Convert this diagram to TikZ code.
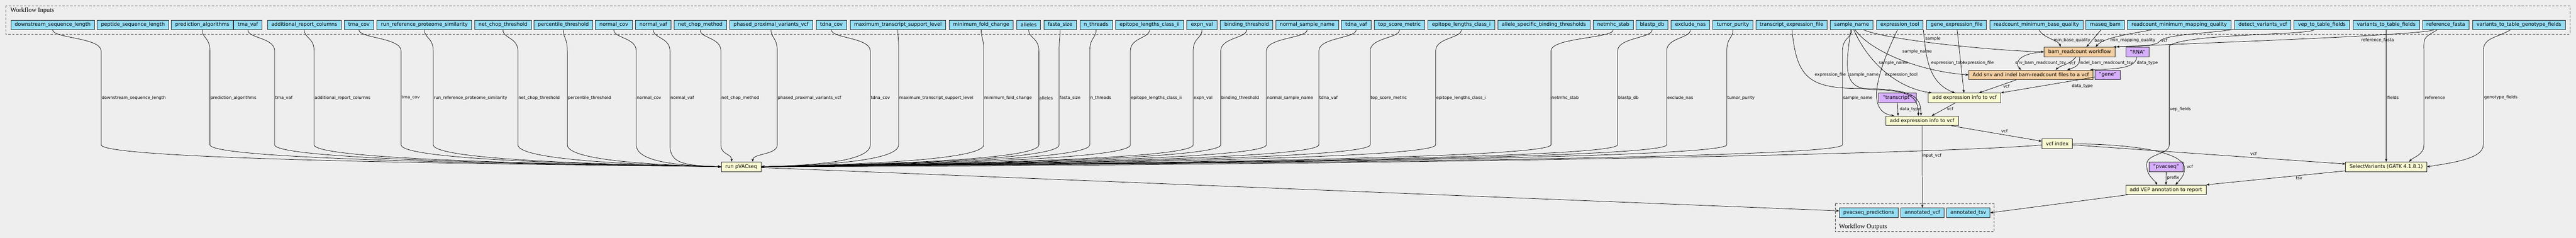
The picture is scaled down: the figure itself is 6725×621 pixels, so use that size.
\documentclass[tikz,border=0pt]{standalone}
\usepackage{fontspec}
\setmainfont{DejaVu Sans}
\newfontfamily\grpfont{Liberation Serif}
\usetikzlibrary{arrows.meta}
\definecolor{bgcol}{HTML}{EEEEEE}
\definecolor{inpcol}{HTML}{94DDF4}
\definecolor{stepcol}{HTML}{FAFAD2}
\definecolor{subcol}{HTML}{F3CEA1}
\definecolor{constcol}{HTML}{D5AEFC}
\tikzset{
  box/.style={draw=black!85, line width=1.2pt, minimum height=25pt, inner xsep=10.4pt, inner ysep=2pt, font=\fontsize{13}{15}\selectfont},
  inp/.style={box, fill=inpcol},
  stepbox/.style={box, fill=stepcol},
  subbox/.style={box, fill=subcol},
  constbox/.style={box, fill=constcol},
  edge/.style={-{Stealth[length=8pt,width=6pt]}, line width=1pt},
  lbl/.style={font=\fontsize{11}{13}\selectfont, inner sep=1pt},
  grp/.style={dash pattern=on 6pt off 4pt, line width=1.2pt, draw=black!75},
  grplbl/.style={font=\grpfont\fontsize{16.8}{20}\selectfont, anchor=west, inner sep=0pt},
}
\begin{document}
\catcode`\_=12
\begin{tikzpicture}[x=1pt,y=-1pt]
	\useasboundingbox (0,0) rectangle (6725,621);
	\fill[bgcol] (0,0) rectangle (6725,621);

	% workflow inputs
	\draw[grp] (15,16) rectangle (6709,89);
	\node[grplbl] (inlbl) at (27,28) {Workflow Inputs};
	\foreach \nm/\cx/\txt in {dsl/137.5/downstream_sequence_length, psl/347/peptide_sequence_length,
		pra/528/prediction_algorithms, trv/647/trna_vaf, arc/794.5/additional_report_columns,
		trc/937/trna_cov, rrp/1108/run_reference_proteome_similarity, nct/1313/net_chop_threshold,
		pct/1470.5/percentile_threshold, noc/1602.5/normal_cov, nov/1705.5/normal_vaf,
		ncm/1828/net_chop_method, ppv/2013/phased_proximal_variants_vcf, tdc/2170.5/tdna_cov,
		mts/2344/maximum_transcript_support_level, mfc/2561.5/minimum_fold_change, alc/2685.5/alleles,
		fas/2767.5/fasta_size, nth/2861.5/n_threads, el2/3001/epitope_lengths_class_ii,
		exv/3138/expn_val, bth/3254.5/binding_threshold, nsn/3412.5/normal_sample_name,
		tdv/3540.5/tdna_vaf, tsm/3653.5/top_score_metric, el1/3815/epitope_lengths_class_i,
		asb/4030.5/allele_specific_binding_thresholds, nms/4211.5/netmhc_stab, bdb/4313/blastp_db,
		exn/4413/exclude_nas, tup/4524/tumor_purity, tex/4677/transcript_expression_file,
		smp/4834/sample_name, ext/4959.5/expression_tool, gex/5108/gene_expression_file,
		rbq/5316/readcount_minimum_base_quality, rsb/5496/rnaseq_bam,
		rmq/5689/readcount_minimum_mapping_quality, dvv/5907/detect_variants_vcf,
		vtf/6061.5/vep_to_table_fields, vtb/6229.5/variants_to_table_fields,
		rfa/6385/reference_fasta, vgt/6576/variants_to_table_genotype_fields}
		\node[inp] (\nm) at (\cx,65) {\txt};

	% steps
	\node[subbox] (bam) at (5429,135.5) {bam_readcount workflow};
	\node[constbox] (rna) at (5580,135.5) {"RNA"};
	\node[subbox] (snv) at (5301.5,195.5) {Add snv and indel bam-readcount files to a vcf};
	\node[constbox] (gene) at (5502.5,195.5) {"gene"};
	\node[stepbox] (addgene) at (5128.5,255.5) {add expression info to vcf};
	\node[constbox] (trans) at (4953.5,255.5) {"transcript"};
	\node[stepbox] (addtrans) at (5018,315.5) {add expression info to vcf};
	\node[stepbox] (index) at (5370.5,375.5) {vcf index};
	\node[stepbox] (run) at (1935,435.5) {run pVACseq};
	\node[constbox] (pvac) at (5655,435.5) {"pvacseq"};
	\node[stepbox] (select) at (6229.5,435.5) {SelectVariants (GATK 4.1.8.1)};
	\node[stepbox] (vep) at (5654.5,495.5) {add VEP annotation to report};

	% workflow outputs
	\draw[grp] (4791,532) rectangle (5206,605);
	\node[inp] (apred) at (4878.5,555.5) {pvacseq_predictions};
	\node[inp] (avcf) at (5018.5,555.5) {annotated_vcf};
	\node[inp] (atsv) at (5138.5,555.5) {annotated_tsv};
	\node[grplbl] (outlbl) at (4801,592) {Workflow Outputs};

	% inputs into run pVACseq
	\foreach \nm/\vx/\txt in {dsl/264/downstream_sequence_length, pra/548/prediction_algorithms,
		trv/717/trna_vaf, arc/820/additional_report_columns, trc/1047/trna_cov,
		rrp/1131/run_reference_proteome_similarity, nct/1352/net_chop_threshold,
		pct/1481/percentile_threshold, noc/1661/normal_cov, nov/1749/normal_vaf}
		\draw[edge] (\nm) .. controls +(0,35) and +(0,-35) .. (\vx,133) -- node[lbl,anchor=west]{\txt} (\vx,378) .. controls (\vx,425) and (1780,432) .. (run.west);
	\draw[edge] (ncm) .. controls +(0,35) and +(0,-35) .. (1882,133) -- node[lbl,anchor=west]{net_chop_method} (1882,378) .. controls (1882,405) and (1910,400) .. ([xshift=-25pt]run.north);
	\draw[edge] (ppv) .. controls +(0,35) and +(0,-35) .. (2029,133) -- node[lbl,anchor=west]{phased_proximal_variants_vcf} (2029,378) .. controls (2029,405) and (1965,400) .. ([xshift=30pt]run.north);
	\foreach \nm/\vx/\txt in {tdc/2272/tdna_cov, mts/2346/maximum_transcript_support_level,
		mfc/2568/minimum_fold_change, alc/2712/alleles, fas/2765/fasta_size, nth/2845/n_threads,
		el2/2951/epitope_lengths_class_ii, exv/3115/expn_val, bth/3187/binding_threshold,
		nsn/3306/normal_sample_name, tdv/3443/tdna_vaf, tsm/3577/top_score_metric,
		el1/3748/epitope_lengths_class_i, nms/4049/netmhc_stab, bdb/4223/blastp_db,
		exn/4351/exclude_nas, tup/4508/tumor_purity, smp/4810/sample_name}
		\draw[edge] (\nm) .. controls +(0,35) and +(0,-35) .. (\vx,133) -- node[lbl,anchor=west]{\txt} (\vx,378) .. controls (\vx,425) and (2100,432) .. (run.east);

	% bam_readcount workflow
	\draw[edge] (smp) .. controls (4930,105) and (5200,132) .. (bam.west) node[lbl] at (5046,101) {sample};
	\draw[edge] (rbq) .. controls (5335,100) and (5375,105) .. ([xshift=-50pt]bam.north) node[lbl] at (5409,105) {min_base_quality};
	\draw[edge] (rsb) -- ([xshift=18pt]bam.north) node[lbl] at (5480,105) {bam};
	\draw[edge] (rmq) .. controls (5540,92) and (5490,100) .. ([xshift=42pt]bam.north) node[lbl] at (5568,105) {min_mapping_quality};
	\draw[edge] (dvv) .. controls (5760,88) and (5650,90) .. (5638,108) .. controls (5630,118) and (5600,121) .. ([xshift=-5pt]bam.north east) node[lbl] at (5650,105) {vcf};
	\draw[edge] (rfa) .. controls (6320,92) and (5750,112) .. ([xshift=3pt]bam.north east) node[lbl] at (6207,105) {reference_fasta};

	% Add snv and indel bam-readcount files to a vcf
	\draw[edge] (bam.west) .. controls (5262,140) and (5260,168) .. ([xshift=-25pt]snv.north) node[lbl] at (5327,165) {snv_bam_readcount_tsv};
	\draw[edge] (bam) .. controls (5405,168) and (5380,170) .. ([xshift=65pt]snv.north) node[lbl,anchor=west] at (5400,165) {vcf};
	\draw[edge] (bam) .. controls (5430,170) and (5420,175) .. ([xshift=95pt]snv.north) node[lbl,anchor=west] at (5427,165) {indel_bam_readcount_tsv};
	\draw[edge] (rna) .. controls (5575,178) and (5530,180) .. ([xshift=155pt]snv.north) node[lbl,anchor=west] at (5577,165) {data_type};
	\draw[edge] (smp) .. controls (4880,130) and (5000,185) .. (snv.west) node[lbl,anchor=west] at (4965,135) {sample_name};

	% gene expression
	\draw[edge] (snv) -- ([xshift=38pt]addgene.north) node[lbl] at (5238,225) {vcf};
	\draw[edge] (gene) -- (addgene.north east) node[lbl] at (5436,225) {data_type};
	\draw[edge] (gex) -- (addgene) node[lbl,anchor=west] at (5122,165) {expression_file};
	\draw[edge] (ext.south east) .. controls (5028,140) and (5030,215) .. ([xshift=-25pt]addgene.north) node[lbl,anchor=west] at (5040,165) {expression_tool};
	\draw[edge] (smp) .. controls (4880,170) and (4960,232) .. ([xshift=-85pt]addgene.north) node[lbl,anchor=west] at (4903,165) {sample_name};

	% transcript expression
	\draw[edge] (tex) .. controls (4690,200) and (4720,230) .. (4850,231) .. controls (4995,232) and (5015,250) .. ([xshift=-3pt]addtrans.north) node[lbl,anchor=west] at (4736,195) {expression_file};
	\draw[edge] (smp) .. controls (4815,190) and (4815,232) .. (4890,234) .. controls (4990,236) and (5008,255) .. ([xshift=-10pt]addtrans.north) node[lbl,anchor=west] at (4826,195) {sample_name};
	\draw[edge] (ext) .. controls (4915,160) and (4860,290) .. ([xshift=-73pt]addtrans.north) node[lbl,anchor=west] at (4919,195) {expression_tool};
	\draw[edge] (trans) -- ([xshift=-63pt]addtrans.north) node[lbl,anchor=west] at (4958,285) {data_type};
	\draw[edge] (addgene) -- ([xshift=25pt]addtrans.north) node[lbl] at (5091,285) {vcf};

	% index and after
	\draw[edge] (addtrans) -- (index) node[lbl] at (5233,342) {vcf};
	\draw[edge] (addtrans) -- (avcf);
	\draw[edge] (index) .. controls (5000,405) and (3500,432) .. (run.east) node[lbl] at (5043,407) {input_vcf};
	\draw[edge] (run) -- ([yshift=5pt]apred.west);
	\draw[edge] (index) -- (select) node[lbl] at (5883,401) {vcf};
	\draw[edge] (vtb) -- (select) node[lbl,anchor=west] at (6231,255) {fields};
	\draw[edge] (rfa) .. controls +(-60,35) and +(0,-35) .. (6328,133) -- (6328,378) .. controls (6328,405) and (6300,410) .. ([xshift=60pt]select.north) node[lbl,anchor=west] at (6329,255) {reference};
	\draw[edge] (vgt) .. controls +(-60,35) and +(0,-35) .. (6483,133) -- (6483,378) .. controls (6483,415) and (6400,425) .. (select.east) node[lbl,anchor=west] at (6484,255) {genotype_fields};

	% add VEP annotation to report
	\draw[edge] (vtf) .. controls (6020,92) and (5700,88) .. (5663,120) -- (5663,378) .. controls (5663,405) and (5604,400) .. (5604,430) .. controls (5604,460) and (5625,470) .. ([xshift=-23pt]vep.north) node[lbl,anchor=west] at (5663,285) {vep_fields};
	\draw[edge] (index) .. controls (5560,376) and (5703,395) .. (5703,440) .. controls (5703,460) and (5690,470) .. ([xshift=25pt]vep.north) node[lbl,anchor=west] at (5707,435) {vcf};
	\draw[edge] (pvac) -- (vep) node[lbl,anchor=west] at (5656,465) {prefix};
	\draw[edge] (select) -- (vep.north east) node[lbl] at (6002,465) {tsv};
	\draw[edge] (vep) -- (atsv.east);
\end{tikzpicture}
\end{document}
